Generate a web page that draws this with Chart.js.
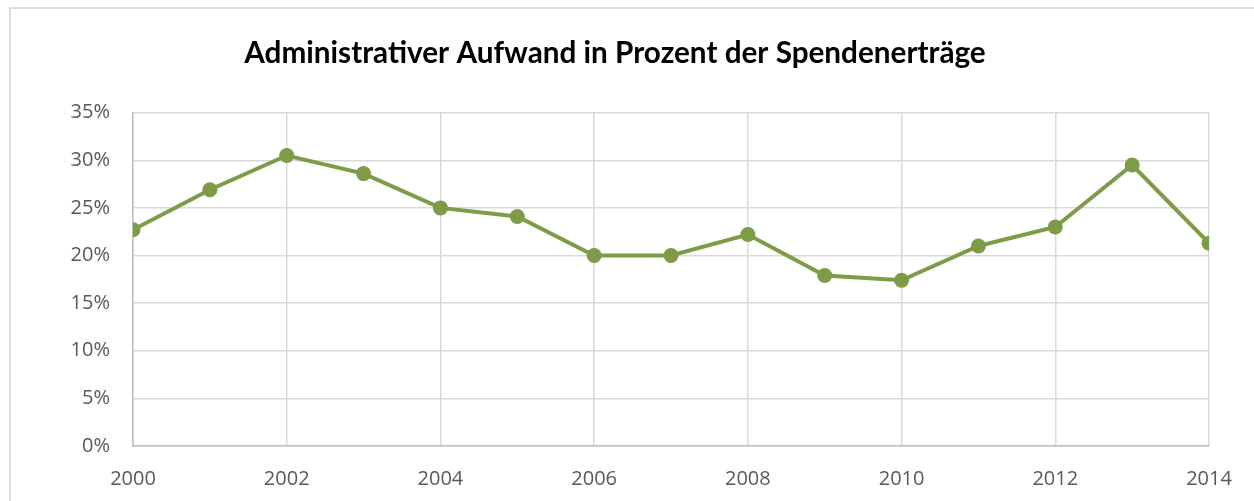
<!DOCTYPE html>
<html>
<head>
<meta charset="utf-8">
<script src="https://cdn.jsdelivr.net/npm/chart.js@4"></script>
<style>
    body { margin: 0; background: #fff; overflow: hidden; }
    #frame { position: absolute; left: 9px; top: 7px; width: 1260px; height: 510px; border-left: 2px solid #dcdcdc; border-top: 2px solid #dcdcdc; }
    #chart { position: absolute; left: 21px; top: 0; }
</style>
</head>
<body>
<div id="frame"></div>
<canvas id="chart" width="1233" height="501"></canvas>
<script>
var years = [2000, 2001, 2002, 2003, 2004, 2005, 2006, 2007, 2008, 2009, 2010, 2011, 2012, 2013, 2014];
var shares = [22.7, 26.9, 30.5, 28.6, 25.0, 24.1, 20.0, 20.0, 22.2, 17.9, 17.4, 21.0, 23.0, 29.5, 21.3];
var title = 'Administrativer Aufwand in Prozent der Spendenerträge';

var points = [];
for (var i = 0; i < years.length; i++) {
    points.push({x: years[i], y: shares[i]});
}

var green = '#7e9b48';

var config = {
    type: 'line',
    data: {
        datasets: [{
            data: points,
            borderColor: green,
            backgroundColor: green,
            borderWidth: 4,
            pointRadius: 7.5,
            pointHoverRadius: 7.5,
            pointBorderWidth: 0,
            tension: 0
        }]
    },
    options: {
        responsive: false,
        animation: false,
        devicePixelRatio: 1,
        layout: { padding: { left: 0, right: 45, top: 0, bottom: 0 } },
        plugins: {
            legend: { display: false },
            tooltip: { enabled: false },
            title: {
                display: true,
                text: title,
                color: '#000',
                font: { family: 'Lato', size: 29.7, weight: 'bold' },
                padding: { top: 36, bottom: 41 }
            }
        },
        scales: {
            x: {
                type: 'linear',
                min: 2000,
                max: 2014,
                grid: { color: '#d9d9d9', lineWidth: 1.5, drawTicks: false },
                border: { color: '#bfbfbf', width: 1.5 },
                ticks: {
                    stepSize: 2,
                    padding: 21,
                    color: '#595959',
                    font: { family: 'Open Sans', size: 20 },
                    callback: function (v) { return String(v); }
                },
                afterFit: function (scale) {
                    scale.height = 55;
                }
            },
            y: {
                min: 0,
                max: 35,
                grid: { color: '#d9d9d9', lineWidth: 1.5, drawTicks: false },
                border: { color: '#bfbfbf', width: 1.5 },
                ticks: {
                    stepSize: 5,
                    padding: 23,
                    color: '#595959',
                    font: { family: 'Open Sans', size: 20 },
                    callback: function (v) { return v + '%'; }
                },
                afterFit: function (scale) {
                    scale.width = 112;
                }
            }
        }
    }
};

var ctx = document.getElementById('chart').getContext('2d');
window.shareChart = new Chart(ctx, config);
</script>
</body>
</html>
